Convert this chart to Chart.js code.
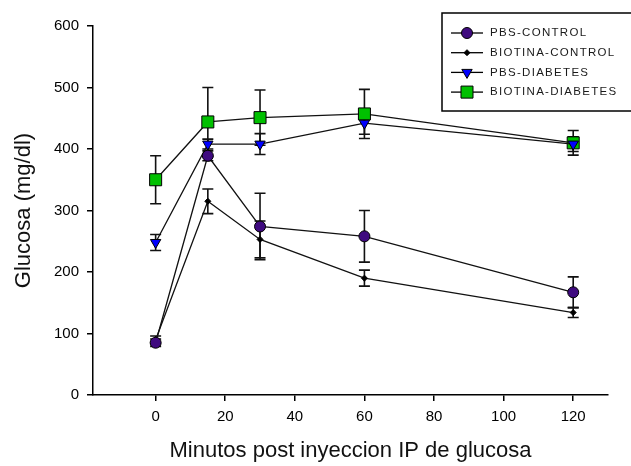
<!DOCTYPE html>
<html>
<head>
<meta charset="utf-8">
<script src="https://cdn.jsdelivr.net/npm/chart.js@4.4.0/dist/chart.umd.min.js"></script>
<style>
  body { margin: 0; background: #fff; }
  #wrap { width: 631px; height: 466px; }
</style>
</head>
<body>
<div id="wrap"><canvas id="chart"></canvas></div>
<script>
// data (glucose mg/dl, mean and error)
const minutes = [0, 15, 30, 60, 120];
const pbsControl = [85, 389, 274, 258, 167];
const pbsControlErr = [6, 8, 54, 42, 25];
const biotinaControl = [90, 315, 253, 190, 134];
const biotinaControlErr = [6, 20, 30, 13, 8];
const pbsDiabetes = [248, 408, 408, 442, 408];
const pbsDiabetesErr = [13, 8, 17, 18, 12];
const biotinaDiabetes = [350, 444, 451, 457, 410];
const biotinaDiabetesErr = [39, 56, 45, 40, 20];
const xTicks = [0, 20, 40, 60, 80, 100, 120];
const yTicks = [0, 100, 200, 300, 400, 500, 600];

const FONT = 'Arial, "Liberation Sans", sans-serif';

function pts(values) {
  return minutes.map((m, i) => ({ x: m, y: values[i] }));
}

function series(label, values, errs, style, radius, fill, rotation) {
  return {
    label: label,
    data: pts(values),
    errors: errs,
    borderColor: '#111',
    borderWidth: 1.3,
    pointStyle: style,
    pointRadius: radius,
    pointRotation: rotation || 0,
    pointBackgroundColor: fill,
    pointBorderColor: '#000',
    pointBorderWidth: 1,
    tension: 0
  };
}

// error bars drawn through the scales
const errorBars = {
  id: 'errorBars',
  beforeDatasetsDraw(chart) {
    const { ctx, scales: { x, y } } = chart;
    ctx.save();
    ctx.strokeStyle = '#111';
    ctx.lineWidth = 1.6;
    chart.data.datasets.forEach(ds => {
      ds.data.forEach((p, i) => {
        const e = ds.errors[i];
        const px = x.getPixelForValue(p.x);
        const top = y.getPixelForValue(p.y + e);
        const bot = y.getPixelForValue(p.y - e);
        ctx.beginPath();
        ctx.moveTo(px, top); ctx.lineTo(px, bot);
        ctx.moveTo(px - 5.5, top); ctx.lineTo(px + 5.5, top);
        ctx.moveTo(px - 5.5, bot); ctx.lineTo(px + 5.5, bot);
        ctx.stroke();
      });
    });
    ctx.restore();
  }
};

// boxed legend with line + marker samples
const boxLegend = {
  id: 'boxLegend',
  afterDraw(chart) {
    const ctx = chart.ctx;
    ctx.save();
    ctx.strokeStyle = '#000';
    ctx.lineWidth = 1.5;
    ctx.strokeRect(442, 13, 200, 98);
    ctx.font = '11.5px ' + FONT;
    ctx.textBaseline = 'middle';
    chart.data.datasets.forEach((ds, i) => {
      const yy = 33 + i * 19.7;
      ctx.lineWidth = 1.3;
      ctx.strokeStyle = '#000';
      ctx.beginPath();
      ctx.moveTo(451, yy); ctx.lineTo(483, yy);
      ctx.stroke();
      ctx.fillStyle = ds.pointBackgroundColor;
      ctx.lineWidth = 1;
      Chart.helpers.drawPoint(ctx, {
        pointStyle: ds.pointStyle,
        radius: ds.pointRadius,
        rotation: ds.pointRotation,
        borderWidth: 1
      }, 467, yy);
      ctx.fillStyle = '#1a1a1a';
      ctx.letterSpacing = '1.3px';
      ctx.fillText(ds.label, 490, yy);
    });
    ctx.restore();
  }
};

new Chart(document.getElementById('chart'), {
  type: 'line',
  data: {
    datasets: [
      series('PBS-CONTROL', pbsControl, pbsControlErr, 'circle', 5.5, '#3f0a7f'),
      series('BIOTINA-CONTROL', biotinaControl, biotinaControlErr, 'rectRot', 3, '#000'),
      series('PBS-DIABETES', pbsDiabetes, pbsDiabetesErr, 'triangle', 6, '#0000ff', 180),
      series('BIOTINA-DIABETES', biotinaDiabetes, biotinaDiabetesErr, 'rect', 8.5, '#00c000')
    ]
  },
  options: {
    responsive: true,
    maintainAspectRatio: false,
    animation: false,
    layout: { padding: { top: 26, right: 23, left: 0, bottom: 0 } },
    plugins: {
      legend: { display: false },
      tooltip: { enabled: false }
    },
    scales: {
      x: {
        type: 'linear',
        min: -18,
        max: 130,
        afterBuildTicks: s => { s.ticks = xTicks.map(v => ({ value: v })); },
        afterFit: s => { s.height = 71; },
        grid: { drawOnChartArea: false, color: '#000', tickLength: 6, lineWidth: 1.5 },
        border: { color: '#000', width: 1.5 },
        ticks: { color: '#000', font: { family: FONT, size: 15 }, padding: 7, maxRotation: 0 },
        title: {
          display: true,
          text: 'Minutos post inyeccion IP de glucosa',
          color: '#111',
          font: { family: FONT, size: 22 },
          padding: { top: 0, bottom: 2 }
        }
      },
      y: {
        min: 0,
        max: 600,
        afterBuildTicks: s => { s.ticks = yTicks.map(v => ({ value: v })); },
        afterFit: s => { s.width = 93; },
        grid: { drawOnChartArea: false, color: '#000', tickLength: 6, lineWidth: 1.5 },
        border: { color: '#000', width: 1.5 },
        ticks: { color: '#000', font: { family: FONT, size: 15 }, padding: 8 },
        title: {
          display: true,
          text: 'Glucosa (mg/dl)',
          color: '#111',
          font: { family: FONT, size: 22 },
          padding: { top: 11, bottom: 0 }
        }
      }
    }
  },
  plugins: [errorBars, boxLegend]
});
</script>
</body>
</html>
